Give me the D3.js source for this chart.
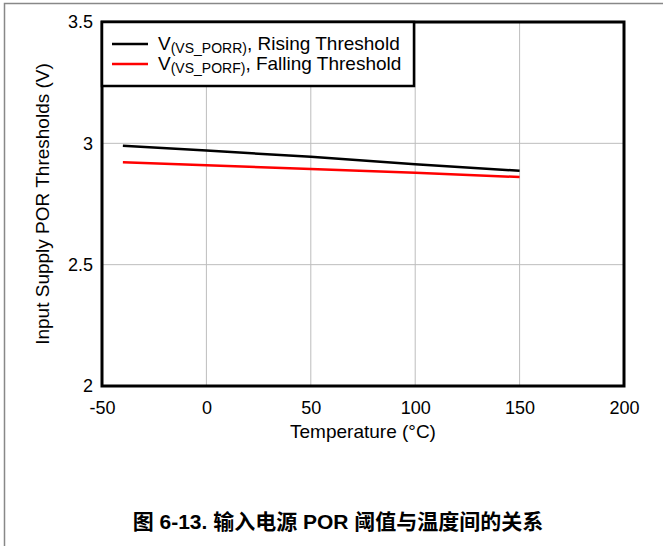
<!DOCTYPE html>
<html>
<head>
<meta charset="utf-8">
<script src="https://cdn.jsdelivr.net/npm/d3@7"></script>
<style>
  body { margin: 0; background: #fff; }
  text { font-family: "Liberation Sans", Arial, sans-serif; }
</style>
</head>
<body>
<div id="chart"></div>
<script>
// data
let temps = [-40, 0, 50, 100, 150];
let rising = [2.990, 2.970, 2.945, 2.914, 2.887];
let falling = [2.922, 2.910, 2.894, 2.879, 2.861];
let xTicks = [-50, 0, 50, 100, 150, 200];
let yTicks = [2, 2.5, 3, 3.5];

let W = 663, H = 546;
let margin = {top: 22, right: 39, bottom: 160, left: 102};
let width = 624 - margin.left,
    height = 386 - margin.top;

let svg = d3.select("#chart").append("svg")
  .attr("width", W).attr("height", H);

// page border (left + top)
svg.append("path")
  .attr("d", "M4.5,546 L4.5,3.5 L663,3.5")
  .attr("fill", "none").attr("stroke", "#888").attr("stroke-width", 1.5);

let g = svg.append("g")
  .attr("transform", "translate(" + margin.left + "," + margin.top + ")");

let x = d3.scaleLinear().domain([-50, 200]).range([0, width]);
let y = d3.scaleLinear().domain([2, 3.5]).range([height, 0]);

// grid
g.append("g").selectAll("line").data(xTicks).enter().append("line")
  .attr("x1", d => x(d)).attr("x2", d => x(d))
  .attr("y1", 0).attr("y2", height)
  .attr("stroke", "#bdbdbd").attr("stroke-width", 1);
g.append("g").selectAll("line").data(yTicks).enter().append("line")
  .attr("x1", 0).attr("x2", width)
  .attr("y1", d => y(d)).attr("y2", d => y(d))
  .attr("stroke", "#bdbdbd").attr("stroke-width", 1);

// axes (labels only)
let xAxis = g.append("g")
  .attr("transform", "translate(0," + height + ")")
  .call(d3.axisBottom(x).tickValues(xTicks).tickSize(0).tickPadding(15).tickFormat(d => String(d)));
let yAxis = g.append("g")
  .call(d3.axisLeft(y).tickValues(yTicks).tickSize(0).tickPadding(9).tickFormat(d => String(d)));
[xAxis, yAxis].forEach(a => {
  a.select(".domain").remove();
  a.selectAll("text").attr("font-size", 18).attr("fill", "#000")
    .attr("font-family", "Liberation Sans, Arial, sans-serif");
});

// lines
let line = d3.line().x((d, i) => x(temps[i])).y(d => y(d));
g.append("path").datum(falling).attr("d", line)
  .attr("fill", "none").attr("stroke", "#ff0000").attr("stroke-width", 2.5);
g.append("path").datum(rising).attr("d", line)
  .attr("fill", "none").attr("stroke", "#000").attr("stroke-width", 2.5);

// frame
g.append("rect").attr("x", 0).attr("y", 0).attr("width", width).attr("height", height)
  .attr("fill", "none").attr("stroke", "#000").attr("stroke-width", 3);

// legend
let leg = g.append("g");
leg.append("rect").attr("x", 0).attr("y", 0).attr("width", 312).attr("height", 64)
  .attr("fill", "#fff").attr("stroke", "#000").attr("stroke-width", 2.5);
let legItems = [
  {sub: "(VS_PORR)", rest: ", Rising Threshold", color: "#000"},
  {sub: "(VS_PORF)", rest: ", Falling Threshold", color: "#ff0000"}
];
legItems.forEach((d, i) => {
  let ly = 22 + i * 20;
  leg.append("line").attr("x1", 10).attr("x2", 46).attr("y1", ly).attr("y2", ly)
    .attr("stroke", d.color).attr("stroke-width", 2.5);
  let t = leg.append("text").attr("x", 56).attr("y", ly + 6).attr("font-size", 19).attr("fill", "#000");
  t.append("tspan").text("V");
  t.append("tspan").attr("font-size", 14).attr("dy", 3).text(d.sub);
  t.append("tspan").attr("dy", -3).text(d.rest);
});

// axis titles
svg.append("text").attr("x", margin.left + width / 2).attr("y", 438)
  .attr("text-anchor", "middle").attr("font-size", 19).text("Temperature (°C)");
svg.append("text")
  .attr("transform", "translate(49," + (margin.top + height / 2) + ") rotate(-90)")
  .attr("text-anchor", "middle").attr("font-size", 19).text("Input Supply POR Thresholds (V)");

// caption
svg.append("text").attr("x", 338).attr("y", 529)
  .attr("text-anchor", "middle").attr("font-size", 21).attr("font-weight", "bold")
  .style("font-family", "'Liberation Sans', 'Noto Sans CJK SC', sans-serif")
  .text("图 6-13. 输入电源 POR 阈值与温度间的关系");
</script>
</body>
</html>
